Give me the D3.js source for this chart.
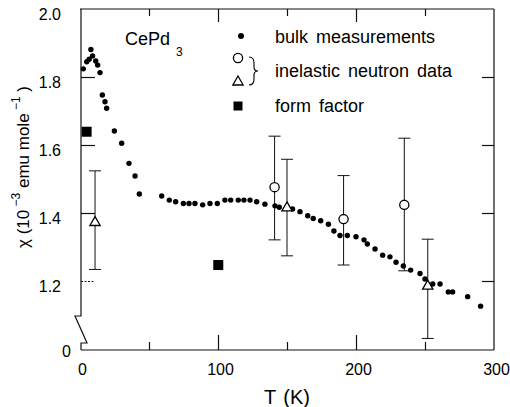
<!DOCTYPE html>
<html><head><meta charset="utf-8">
<script src="https://cdn.jsdelivr.net/npm/d3@7"></script>
<style>
body{margin:0;background:#fff}
svg{display:block}
text{font-family:"Liberation Sans",Arial,Helvetica,sans-serif;fill:#000}
</style>
</head><body>
<svg id="c" width="510" height="407"></svg>
<script>
// ---- data ----
const bulkT = [2.4,4.9,6.7,7.9,9.1,11.4,12.8,14.5,16.2,18.1,19.3,24.9,30.2,35.5,39.9,43,
  59.2,64.7,69.3,74.9,79,83.3,88.9,94.2,99.5,105,109.2,114.7,118.8,123.2,128,134,141.3,144.4,
  154,159.4,165,169,174.4,180,184,188.4,193.7,200,205.8,208.2,213.8,219.3,224.6,229,234.3,
  239.6,246.4,250,255.6,260.9,266.9,270,280.9,290.3];
const bulkChi = [1.824,1.845,1.852,1.881,1.862,1.847,1.835,1.813,1.747,1.727,1.708,1.641,1.605,1.546,1.509,1.456,
  1.450,1.438,1.433,1.428,1.428,1.428,1.424,1.428,1.428,1.438,1.438,1.438,1.438,1.438,1.433,1.426,1.421,1.417,
  1.412,1.404,1.392,1.384,1.377,1.367,1.347,1.334,1.334,1.330,1.321,1.309,1.294,1.276,1.271,1.255,1.244,
  1.232,1.222,1.206,1.191,1.191,1.168,1.168,1.154,1.126];
const circT  = [141, 191, 235];
const circChi = [1.476, 1.382, 1.424];
const circLo  = [1.321, 1.247, 1.230];
const circHi  = [1.626, 1.510, 1.620];
const triT   = [10.9, 150, 252];
const triChi = [1.372, 1.415, 1.185];
const triLo  = [1.234, 1.274, 1.031];
const triHi  = [1.524, 1.558, 1.323];
const formT   = [4.8, 100.2];
const formChi = [1.639, 1.247];
const xTickLabels = [0, 100, 200, 300];
const xMajor = [100, 200];
const xMinor = [50, 150, 250];
const yTickLabels = [1.2, 1.4, 1.6, 1.8, 2.0];
const legendLabels = ["bulk measurements", "inelastic neutron data", "form factor"];

// ---- layout ----
const svg = d3.select("#c");
const x = d3.scaleLinear().domain([0, 300]).range([80, 494]);
const y = d3.scaleLinear().domain([1.2, 2.0]).range([281, 9]);
const yZero = 350; // broken-axis zero
const L = 81, R = 494, T = 9;

const frame = svg.append("g").attr("stroke", "#111").attr("fill", "none").attr("stroke-width", 1.2);
frame.append("line").attr("x1", L - 1).attr("x2", R).attr("y1", T).attr("y2", T);
frame.append("line").attr("x1", R).attr("x2", R).attr("y1", T).attr("y2", yZero);
frame.append("line").attr("x1", L).attr("x2", R).attr("y1", yZero).attr("y2", yZero);
frame.append("path").attr("d", `M${L},${T}V316H75L87,343H${L}V${yZero}`);

// bottom axis
const gx = svg.append("g").attr("transform", `translate(0,${yZero})`)
  .call(d3.axisBottom(x).tickValues(xTickLabels).tickSize(0).tickPadding(14).tickFormat(d3.format("d")));
gx.select(".domain").remove();
gx.selectAll("text").attr("font-size", 16).attr("font-family", null).attr("dx", 2);
function ticks(axis, pos, vals, len) {
  const g = svg.append("g").attr("transform", pos)
    .call(axis.tickValues(vals).tickSize(-len).tickFormat(""));
  g.select(".domain").remove();
  g.selectAll("line").attr("stroke", "#111").attr("stroke-width", 1.2);
  return g;
}
ticks(d3.axisBottom(x), `translate(0,${yZero})`, xMajor, 15);
ticks(d3.axisBottom(x), `translate(0,${yZero})`, xMinor, 8);
ticks(d3.axisTop(x), `translate(0,${T})`, xMajor, 13);
ticks(d3.axisTop(x), `translate(0,${T})`, xMinor, 7);
ticks(d3.axisRight(y), `translate(${R},0)`, [1.2, 1.4, 1.6, 1.8], 12);
ticks(d3.axisLeft(y), `translate(${L},0)`, [1.4, 1.6, 1.8], 14);
ticks(d3.axisLeft(y), `translate(${L},0)`, [1.2], 14).selectAll("line").attr("stroke-dasharray", "2,1.5").attr("stroke-width", 1);

const gy = svg.append("g").attr("transform", `translate(${L},0)`)
  .call(d3.axisLeft(y).tickValues(yTickLabels).tickSize(0).tickPadding(20).tickFormat(d3.format(".1f")));
gy.select(".domain").remove();
gy.selectAll("text").attr("font-size", 16).attr("font-family", null).attr("y", 5);
svg.append("text").attr("x", 71).attr("y", yZero + 7).attr("text-anchor", "end").attr("font-size", 16).text("0");

// axis titles
svg.append("text").attr("x", 287).attr("y", 404).attr("text-anchor", "middle")
  .attr("font-size", 20).attr("word-spacing", 2).text("T (K)");
const yt = svg.append("text").attr("transform", "translate(29,167) rotate(-90)")
  .attr("text-anchor", "middle").attr("font-size", 17);
yt.append("tspan").text("χ (10");
yt.append("tspan").attr("font-size", 12).attr("dy", -9).text(" −3");
yt.append("tspan").attr("dy", 9).text("  emu mole");
yt.append("tspan").attr("font-size", 12).attr("dy", -9).text(" −1");
yt.append("tspan").attr("dy", 9).text(" )");

// error bars
function errorBars(Ts, lo, hi) {
  const g = svg.append("g").attr("stroke", "#111").attr("stroke-width", 1);
  Ts.forEach((t, i) => {
    const cx = x(t);
    g.append("line").attr("x1", cx).attr("x2", cx).attr("y1", y(lo[i])).attr("y2", y(hi[i]));
    g.append("line").attr("x1", cx - 6).attr("x2", cx + 6).attr("y1", y(lo[i])).attr("y2", y(lo[i]));
    g.append("line").attr("x1", cx - 6).attr("x2", cx + 6).attr("y1", y(hi[i])).attr("y2", y(hi[i]));
  });
}
errorBars(circT, circLo, circHi);
errorBars(triT, triLo, triHi);

// bulk
svg.append("g").selectAll("circle").data(bulkT).join("circle")
  .attr("cx", d => x(d)).attr("cy", (d, i) => y(bulkChi[i])).attr("r", 2.7).attr("fill", "#000");
// open circles
svg.append("g").selectAll("circle").data(circT).join("circle")
  .attr("cx", d => x(d)).attr("cy", (d, i) => y(circChi[i])).attr("r", 4.6)
  .attr("fill", "#fff").attr("stroke", "#000").attr("stroke-width", 1.3);
// triangles
const tri = d3.symbol(d3.symbolTriangle, 46);
svg.append("g").selectAll("path").data(triT).join("path")
  .attr("d", tri).attr("transform", (d, i) => `translate(${x(d)},${y(triChi[i])})`)
  .attr("fill", "#fff").attr("stroke", "#000").attr("stroke-width", 1.3);
// form factor squares
svg.append("g").selectAll("rect").data(formT).join("rect")
  .attr("x", d => x(d) - 5).attr("y", (d, i) => y(formChi[i]) - 5).attr("width", 10).attr("height", 10).attr("fill", "#000");

// label & legend
const cp = svg.append("text").attr("x", 125).attr("y", 45).attr("font-size", 18);
cp.append("tspan").text("CePd");
cp.append("tspan").attr("font-size", 12).attr("dx", 6).attr("dy", 11).text("3");

svg.append("circle").attr("cx", 241).attr("cy", 36).attr("r", 3).attr("fill", "#000");
svg.append("circle").attr("cx", 238).attr("cy", 58).attr("r", 4.6).attr("fill", "#fff").attr("stroke", "#000").attr("stroke-width", 1.3);
svg.append("path").attr("d", tri).attr("transform", "translate(238,82)").attr("fill", "#fff").attr("stroke", "#000").attr("stroke-width", 1.3);
svg.append("rect").attr("x", 233.5).attr("y", 101.5).attr("width", 9).attr("height", 9).attr("fill", "#000");
svg.append("path").attr("d", "M249,57Q254,57 254,63V67Q254,71 258,71Q254,71 254,75V79Q254,85 249,85")
  .attr("fill", "none").attr("stroke", "#000").attr("stroke-width", 1.1);
const legY = [43, 77, 112];
svg.append("g").selectAll("text").data(legendLabels).join("text")
  .attr("x", 275).attr("y", (d, i) => legY[i]).attr("font-size", 18).attr("word-spacing", 3).text(d => d);
</script>
</body></html>
